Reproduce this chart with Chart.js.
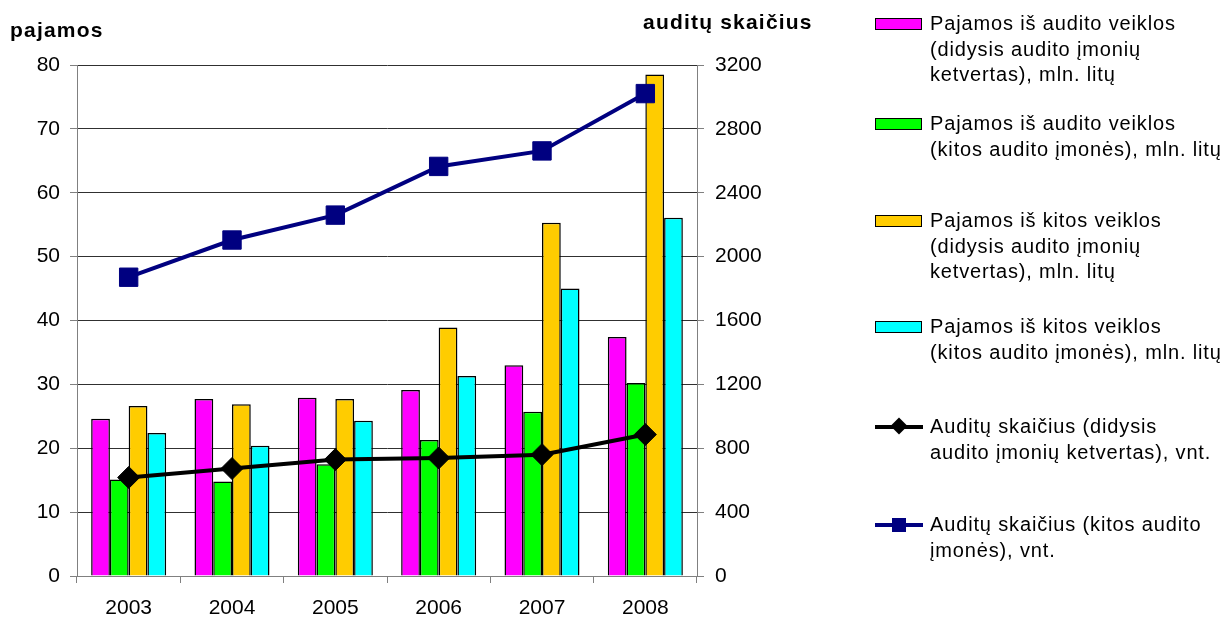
<!DOCTYPE html>
<html>
<head>
<meta charset="utf-8">
<script src="https://cdn.jsdelivr.net/npm/chart.js@4.4.0/dist/chart.umd.min.js"></script>
<style>
  html, body { margin: 0; padding: 0; background: #fff; }
  body { width: 1228px; height: 617px; position: relative; overflow: hidden;
         font-family: "Liberation Sans", Arial, sans-serif; color: #000; }
  #wrap { position: absolute; left: 0; top: 0; width: 1228px; height: 617px; }
  .title { position: absolute; font-weight: bold; font-size: 21px; letter-spacing: 1.2px; white-space: nowrap; line-height: 24px; }
  .legend-item { position: absolute; left: 875px; }
  .legend-text { position: absolute; left: 55px; top: 0; font-size: 20px; line-height: 25.5px;
                 letter-spacing: 0.85px; white-space: nowrap; }
  .sw-box { position: absolute; left: 0; top: 7px; width: 45px; height: 10px; border: 1.5px solid #000; }
  .sw-line { position: absolute; left: 0; top: 10.5px; width: 48px; height: 4px; }
  .sw-diamond { position: absolute; left: 18px; top: 6px; width: 12px; height: 12px; background: #000; transform: rotate(45deg); }
  .sw-square { position: absolute; left: 17px; top: 6px; width: 14px; height: 14px; background: #000080; }
</style>
</head>
<body>
<div id="wrap"><canvas id="c" width="1228" height="617"></canvas></div>
<div class="title" style="left:10px; top:18px;">pajamos</div>
<div class="title" style="left:643px; top:10px;">auditų skaičius</div>
<div id="legend"></div>
<script>
// ---- data ----
const categories = ['2003', '2004', '2005', '2006', '2007', '2008'];
const auditBig4Income   = [24.6, 27.7, 27.9, 29.1, 33.0, 37.4];
const auditOtherIncome  = [15.1, 14.8, 17.5, 21.3, 25.7, 30.2];
const otherBig4Income   = [26.6, 26.9, 27.7, 38.9, 55.3, 78.5];
const otherOtherIncome  = [22.4, 20.4, 24.3, 31.3, 45.0, 56.1];
const auditsBig4Count   = [617, 673, 729, 739, 760, 886];
const auditsOtherCount  = [1871, 2104, 2260, 2565, 2662, 3021];
const leftTicks  = [0, 10, 20, 30, 40, 50, 60, 70, 80];
const rightTicks = [0, 400, 800, 1200, 1600, 2000, 2400, 2800, 3200];
const legendLabels = [
  ['Pajamos iš audito veiklos', '(didysis audito įmonių', 'ketvertas), mln. litų'],
  ['Pajamos iš audito veiklos', '(kitos audito įmonės), mln. litų'],
  ['Pajamos iš kitos veiklos', '(didysis audito įmonių', 'ketvertas), mln. litų'],
  ['Pajamos iš kitos veiklos', '(kitos audito įmonės), mln. litų'],
  ['Auditų skaičius (didysis', 'audito įmonių ketvertas), vnt.'],
  ['Auditų skaičius (kitos audito', 'įmonės), vnt.']
];
const seriesColors = ['#FF00FF', '#00FF00', '#FFCC00', '#00FFFF', '#000000', '#000080'];

const FONT = '"Liberation Sans", Arial, sans-serif';
const barCommon = { type: 'bar', yAxisID: 'yL', borderColor: '#000', borderWidth: 1.5,
  categoryPercentage: 0.726, barPercentage: 1.0, order: 2 };

const datasets = [
  Object.assign({}, barCommon, { label: legendLabels[0].join(' '), data: auditBig4Income,  backgroundColor: seriesColors[0] }),
  Object.assign({}, barCommon, { label: legendLabels[1].join(' '), data: auditOtherIncome, backgroundColor: seriesColors[1] }),
  Object.assign({}, barCommon, { label: legendLabels[2].join(' '), data: otherBig4Income,  backgroundColor: seriesColors[2] }),
  Object.assign({}, barCommon, { label: legendLabels[3].join(' '), data: otherOtherIncome, backgroundColor: seriesColors[3] }),
  { type: 'line', label: legendLabels[4].join(' '), data: auditsBig4Count, yAxisID: 'yR', order: 1,
    borderColor: seriesColors[4], backgroundColor: seriesColors[4], borderWidth: 4, tension: 0,
    pointStyle: 'rectRot', pointRadius: 11, pointBorderWidth: 1, pointBorderColor: '#000', pointBackgroundColor: '#000' },
  { type: 'line', label: legendLabels[5].join(' '), data: auditsOtherCount, yAxisID: 'yR', order: 0,
    borderColor: seriesColors[5], backgroundColor: seriesColors[5], borderWidth: 4, tension: 0,
    pointStyle: 'rect', pointRadius: 13, pointBorderWidth: 1, pointBorderColor: seriesColors[5], pointBackgroundColor: seriesColors[5] }
];

new Chart(document.getElementById('c'), {
  data: { labels: categories, datasets: datasets },
  options: {
    responsive: false, animation: false, events: [],
    layout: { padding: { left: 0, right: 431, top: 65, bottom: 0 } },
    plugins: { legend: { display: false }, tooltip: { enabled: false }, title: { display: false } },
    scales: {
      x: {
        type: 'category', offset: true,
        grid: { display: true, drawOnChartArea: false, drawTicks: true, tickLength: 7, color: '#808080', offset: true },
        border: { display: true, color: '#808080', width: 1 },
        ticks: { color: '#000', font: { family: FONT, size: 21 }, padding: 13, maxRotation: 0 },
        afterFit: s => { s.height = 41; }
      },
      yL: {
        position: 'left', min: 0, max: 80,
        afterBuildTicks: s => { s.ticks = leftTicks.map(v => ({ value: v })); },
        grid: { color: '#303030', lineWidth: 1, tickLength: 7, tickColor: '#808080', drawTicks: true },
        border: { display: true, color: '#808080', width: 1 },
        ticks: { color: '#000', font: { family: FONT, size: 21 }, padding: 10, callback: v => String(v) },
        afterFit: s => { s.width = 77; }
      },
      yR: {
        position: 'right', min: 0, max: 3200,
        afterBuildTicks: s => { s.ticks = rightTicks.map(v => ({ value: v })); },
        grid: { drawOnChartArea: false, tickLength: 7, color: '#808080', drawTicks: true },
        border: { display: true, color: '#808080', width: 1 },
        ticks: { color: '#000', font: { family: FONT, size: 21 }, padding: 11, callback: v => String(v) },
        afterFit: s => { s.width = 100; }
      }
    }
  }
});

// ---- HTML legend built from the series ----
const legendTops = [11, 111, 208, 314, 414, 512];
const legendEl = document.getElementById('legend');
legendLabels.forEach((lines, i) => {
  const item = document.createElement('div');
  item.className = 'legend-item';
  item.style.top = legendTops[i] + 'px';
  if (i < 4) {
    const b = document.createElement('div');
    b.className = 'sw-box';
    b.style.background = seriesColors[i];
    item.appendChild(b);
  } else {
    const l = document.createElement('div');
    l.className = 'sw-line';
    l.style.background = seriesColors[i];
    item.appendChild(l);
    const m = document.createElement('div');
    m.className = i === 4 ? 'sw-diamond' : 'sw-square';
    item.appendChild(m);
  }
  const t = document.createElement('div');
  t.className = 'legend-text';
  t.innerHTML = lines.map(s => s.replace(/&/g, '&amp;').replace(/</g, '&lt;')).join('<br>');
  item.appendChild(t);
  legendEl.appendChild(item);
});
</script>
</body>
</html>
